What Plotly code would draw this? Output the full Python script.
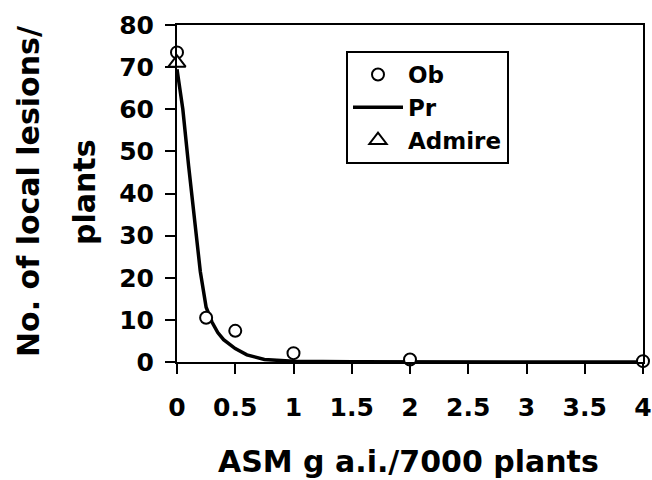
import plotly.graph_objects as go

# Observed data (Ob)
ob_x = [0, 0.25, 0.5, 1, 2, 4]
ob_y = [73.5, 10.5, 7.4, 2.1, 0.6, 0.2]

# Predicted curve (Pr)
pr_x = [0, 0.05, 0.1, 0.15, 0.2, 0.25, 0.3, 0.35, 0.4, 0.5, 0.6, 0.75, 1, 1.5, 2, 3, 4]
pr_y = [69.5, 60, 46.5, 33.5, 21.5, 13, 9.5, 7, 5.3, 3.2, 1.7, 0.6, 0.15, 0.05, 0, 0, 0]

# Admire reference
adm_x = [0]
adm_y = [71]

x_ticks = [0, 0.5, 1, 1.5, 2, 2.5, 3, 3.5, 4]
x_ticklabels = ["0", "0.5", "1", "1.5", "2", "2.5", "3", "3.5", "4"]
y_ticks = [0, 10, 20, 30, 40, 50, 60, 70, 80]

FONT = "DejaVu Sans, sans-serif"

fig = go.Figure()
fig.add_trace(go.Scatter(x=pr_x, y=pr_y, mode="lines", name="Pr",
                         line=dict(color="black", width=3.5), legendrank=2,
                         cliponaxis=False))
fig.add_trace(go.Scatter(x=ob_x, y=ob_y, mode="markers", name="Ob",
                         marker=dict(symbol="circle", size=12, color="white",
                                     line=dict(color="black", width=2)),
                         legendrank=1, cliponaxis=False))
fig.add_trace(go.Scatter(x=adm_x, y=adm_y, mode="markers", name="Admire",
                         marker=dict(symbol="triangle-up", size=15, color="white",
                                     line=dict(color="black", width=2)),
                         legendrank=3, cliponaxis=False))

fig.update_layout(
    width=652, height=480,
    margin=dict(l=177, r=9, t=25, b=118, autoexpand=False),
    paper_bgcolor="white", plot_bgcolor="white",
    font=dict(family=FONT, color="black", size=26, weight="bold"),
    showlegend=True,
    legend=dict(x=(346 - 177) / 466, y=(362 - 51) / 337, xanchor="left", yanchor="top",
                bordercolor="black", borderwidth=2, bgcolor="white",
                font=dict(family=FONT, size=23, color="black", weight="bold"),
                tracegroupgap=0, itemwidth=50),
    xaxis=dict(range=[0, 4], tickmode="array", tickvals=x_ticks, ticktext=x_ticklabels,
               showline=True, linecolor="black", linewidth=2, mirror=True,
               ticks="outside", ticklen=10, tickwidth=2, tickcolor="black",
               showgrid=False, zeroline=False, ticklabelstandoff=12, automargin=False,
               tickfont=dict(family=FONT, size=25, color="black", weight="bold")),
    yaxis=dict(range=[0, 80], tickmode="array", tickvals=y_ticks,
               showline=True, linecolor="black", linewidth=2, mirror=True,
               ticks="outside", ticklen=10, tickwidth=2, tickcolor="black",
               showgrid=False, zeroline=False, ticklabelstandoff=6, automargin=False,
               tickfont=dict(family=FONT, size=25, color="black", weight="bold")),
    annotations=[
        dict(text="ASM g a.i./7000 plants", xref="paper", yref="paper",
             x=(408 - 177) / 466, y=(362 - 461) / 337, xanchor="center", yanchor="middle",
             showarrow=False, font=dict(family=FONT, size=30, color="black", weight="bold")),
        dict(text="No. of local lesions/", xref="paper", yref="paper",
             x=(28 - 177) / 466, y=(362 - 192) / 337, xanchor="center", yanchor="middle",
             textangle=-90, showarrow=False,
             font=dict(family=FONT, size=30, color="black", weight="bold")),
        dict(text="plants", xref="paper", yref="paper",
             x=(84 - 177) / 466, y=(362 - 192) / 337, xanchor="center", yanchor="middle",
             textangle=-90, showarrow=False,
             font=dict(family=FONT, size=30, color="black", weight="bold")),
    ],
)

fig.write_html("out.html", config={"displayModeBar": False},
               post_script="document.body.style.margin='0';document.body.style.overflow='hidden';")
